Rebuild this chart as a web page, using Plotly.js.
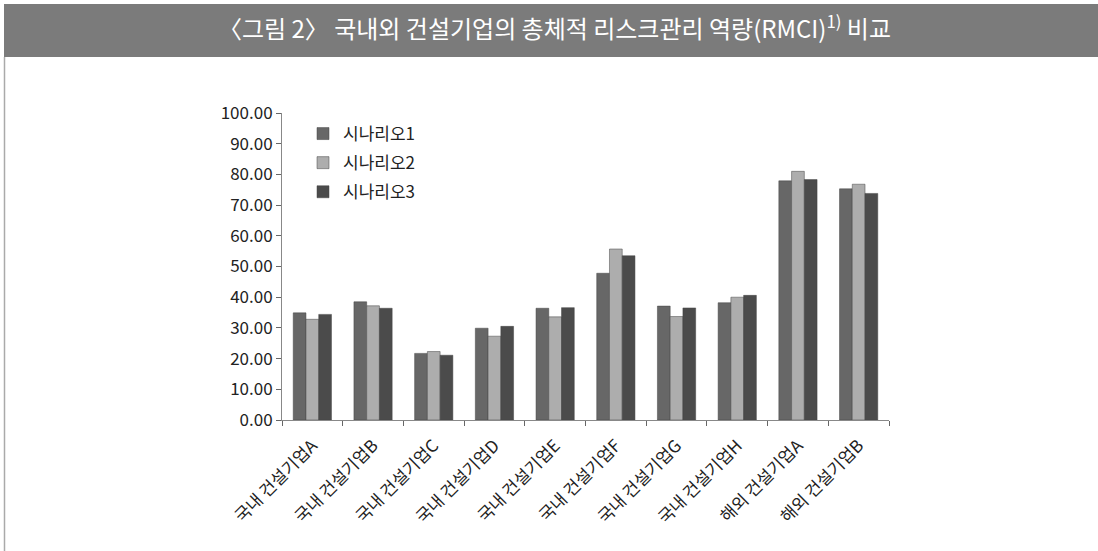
<!DOCTYPE html>
<html>
<head>
<meta charset="utf-8">
<script src="https://cdn.plot.ly/plotly-3.0.1.min.js"></script>
<style>html,body{margin:0;padding:0;background:#fff;}#chart{width:1098px;height:551px;}</style>
</head>
<body>
<div id="chart"></div>
<script>
const categories = ["국내 건설기업A","국내 건설기업B","국내 건설기업C","국내 건설기업D","국내 건설기업E","국내 건설기업F","국내 건설기업G","국내 건설기업H","해외 건설기업A","해외 건설기업B"];
const seriesNames = ["시나리오1","시나리오2","시나리오3"];
const scenario1 = [34.9, 38.5, 21.7, 29.9, 36.4, 47.8, 37.1, 38.2, 77.9, 75.3];
const scenario2 = [32.8, 37.2, 22.3, 27.3, 33.6, 55.7, 33.7, 40.0, 81.0, 76.8];
const scenario3 = [34.4, 36.4, 21.1, 30.5, 36.6, 53.5, 36.5, 40.6, 78.3, 73.8];
const yTickVals = [0,10,20,30,40,50,60,70,80,90,100];
const yTickText = ["0.00","10.00","20.00","30.00","40.00","50.00","60.00","70.00","80.00","90.00","100.00"];
const titleText = "〈그림 2〉 국내외 건설기업의 총체적 리스크관리 역량(RMCI)<sup>1)</sup> 비교";

const colors = ["#676767","#adadad","#4b4b4b"];
const values = [scenario1, scenario2, scenario3];
const font = "Noto Sans CJK KR, Noto Sans, sans-serif";

const traces = values.map((v,i)=>({
  type:"bar", x:categories, y:v, name:seriesNames[i], legendgroup:"g"+i,
  marker:{color:colors[i], line:{color:"#444", width:0.5}}
}));

const L=282, R=889, T=113, B=420, W=1098, H=551;
const px = x => (x-L)/(R-L);
const py = y => (B-y)/(B-T);

const layout = {
  width:W, height:H,
  margin:{l:L, r:W-R, t:T, b:H-B, pad:0},
  paper_bgcolor:"#fff", plot_bgcolor:"#fff",
  barmode:"group", bargap:0.37, bargroupgap:0,
  title:{text:titleText, x:0.505, xanchor:"center", y:1-30/H, yanchor:"middle", yref:"container",
         font:{family:font, size:24, color:"#fff"}},
  showlegend:true,
  legend:{x:px(303), y:py(116), xanchor:"left", yanchor:"top", bgcolor:"rgba(0,0,0,0)",
          font:{family:font, size:17, color:"#222"}, itemwidth:30, traceorder:"grouped", tracegroupgap:4},
  xaxis:{type:"category", showline:true, linecolor:"#888", linewidth:1, ticks:"outside", tickson:"boundaries",
         ticklen:5, tickcolor:"#666", tickangle:-45, ticklabelstandoff:8,
         tickfont:{family:font, size:17, color:"#222"}, showgrid:false, fixedrange:true},
  yaxis:{range:[0,100], tickvals:yTickVals, ticktext:yTickText, showline:true, linecolor:"#888", linewidth:1,
         ticks:"outside", ticklen:5, tickcolor:"#666", showgrid:false, zeroline:false,
         tickfont:{family:font, size:17, color:"#222"}},
  shapes:[
    {type:"rect", xref:"paper", yref:"paper", x0:px(4), x1:px(1098), y0:py(57), y1:py(4), fillcolor:"#7b7b7b", line:{width:0}, layer:"below"},
    {type:"line", xref:"paper", yref:"paper", x0:px(4.5), x1:px(4.5), y0:py(57), y1:py(551), line:{color:"#aaa", width:1.5}}
  ]
};
Plotly.newPlot("chart", traces, layout, {displayModeBar:false, staticPlot:true});
</script>
</body>
</html>
